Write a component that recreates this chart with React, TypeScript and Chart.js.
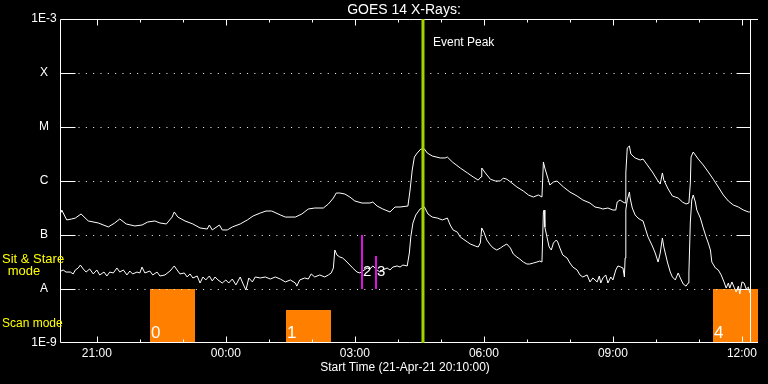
import React, { useEffect, useRef } from "react";
import { Chart, registerables } from "chart.js";

Chart.register(...registerables);

// Times are minutes after the start time 21-Apr-21 20:10:00
const longTime = [
  0, 1, 8, 15, 20, 28, 38, 52, 66, 75,
  82, 91, 103, 113, 121, 131, 138, 147, 155, 158,
  163, 173, 184, 194, 204, 207, 211, 221, 225, 232,
  239, 250, 260, 268, 278, 286, 294, 306, 313, 327,
  336, 345, 354, 366, 373, 380, 384, 389, 396, 403,
  410, 420, 431, 435, 441, 449, 459, 466, 473, 484,
  487, 490, 493, 497, 502, 507, 511, 518, 529, 536,
  539, 546, 557, 567, 575, 582, 586, 587, 592, 599,
  606, 613, 617, 622, 629, 636, 645, 652, 659, 666,
  671, 673, 675, 680, 682, 687, 692, 701, 710, 720,
  728, 738, 745, 752, 756, 763, 770, 774, 776, 780,
  784, 787, 788, 790, 793, 795, 801, 808, 812, 818,
  825, 832, 836, 839, 841, 847, 853, 857, 861, 867,
  872, 876, 878, 879, 882, 885, 889, 896, 903, 910,
  917, 924, 931, 938, 945, 952, 959, 961,
];
const longFlux = [
  2.67e-7, 2.9e-7, 1.9e-7, 1.98e-7, 2.06e-7, 2.45e-7, 1.82e-7, 1.67e-7, 1.41e-7, 1.67e-7,
  1.98e-7, 1.6e-7, 1.47e-7, 1.53e-7, 1.74e-7, 1.82e-7, 1.67e-7, 1.6e-7, 2.15e-7, 2.67e-7,
  2.15e-7, 1.82e-7, 1.6e-7, 1.35e-7, 1.29e-7, 1.53e-7, 1.24e-7, 1.53e-7, 1.24e-7, 1.24e-7,
  1.41e-7, 1.6e-7, 1.9e-7, 2.25e-7, 2.55e-7, 2.78e-7, 2.78e-7, 2.35e-7, 2.15e-7, 2.15e-7,
  2.45e-7, 3.03e-7, 3.16e-7, 3.16e-7, 3.75e-7, 4.84e-7, 5.99e-7, 5.99e-7, 5.74e-7, 5.05e-7,
  4.26e-7, 3.91e-7, 3.91e-7, 4.08e-7, 3.44e-7, 3.03e-7, 2.67e-7, 3.3e-7, 3.3e-7, 3.44e-7,
  6.81e-7, 1.6e-6, 2.78e-6, 3.3e-6, 3.91e-6, 3.91e-6, 3.3e-6, 2.9e-6, 2.67e-6, 2.67e-6,
  2.78e-6, 2.25e-6, 1.74e-6, 1.41e-6, 1.19e-6, 1.04e-6, 1.19e-6, 1.74e-6, 1.41e-6, 1.08e-6,
  1.0e-6, 1.0e-6, 1.13e-6, 1.08e-6, 9.18e-7, 7.74e-7, 6.53e-7, 5.51e-7, 5.05e-7, 5.51e-7,
  5.05e-7, 2.25e-6, 1.74e-6, 1.04e-6, 8.43e-7, 9.58e-7, 1.0e-6, 7.74e-7, 6.25e-7, 5.27e-7,
  4.45e-7, 3.91e-7, 3.3e-7, 3.16e-7, 3.03e-7, 3.16e-7, 2.9e-7, 2.9e-7, 4.08e-7, 4.45e-7,
  4.08e-7, 3.91e-7, 1.41e-6, 4.08e-6, 4.45e-6, 3.16e-6, 2.67e-6, 2.45e-6, 2.55e-6, 1.98e-6,
  1.47e-6, 1.04e-6, 8.8e-7, 1.41e-6, 1.04e-6, 7.11e-7, 5.27e-7, 5.05e-7, 4.84e-7, 4.08e-7,
  3.75e-7, 3.91e-7, 9.18e-7, 2.78e-6, 3.44e-6, 3.03e-6, 2.55e-6, 1.98e-6, 1.47e-6, 1.08e-6,
  7.74e-7, 5.51e-7, 4.26e-7, 3.59e-7, 3.3e-7, 2.9e-7, 2.67e-7, 2.67e-7,
];

const shortTime = [
  0, 3, 7, 13, 17, 20, 24, 27, 31, 35,
  40, 45, 50, 54, 60, 64, 68, 73, 78, 82,
  87, 92, 96, 100, 106, 110, 113, 117, 124, 128,
  134, 138, 145, 152, 158, 162, 166, 172, 176, 180,
  184, 190, 194, 198, 202, 207, 211, 215, 219, 225,
  230, 234, 239, 244, 250, 254, 258, 262, 267, 271,
  278, 285, 292, 299, 306, 313, 320, 327, 329, 333,
  340, 345, 349, 354, 361, 368, 373, 377, 380, 382,
  385, 389, 393, 399, 403, 407, 413, 417, 421, 427,
  431, 435, 441, 445, 449, 455, 459, 463, 469, 473,
  477, 483, 486, 488, 491, 495, 501, 507, 512, 518,
  525, 532, 539, 543, 547, 553, 557, 561, 567, 571,
  578, 582, 585, 587, 590, 594, 599, 603, 608, 613,
  617, 622, 627, 631, 636, 640, 645, 650, 654, 659,
  664, 668, 671, 673, 674, 675, 678, 681, 684, 687,
  691, 693, 696, 700, 706, 710, 714, 720, 724, 728,
  734, 738, 742, 748, 751, 753, 756, 760, 763, 767,
  770, 774, 777, 781, 784, 786, 787, 788, 790, 793,
  794, 797, 801, 805, 809, 812, 815, 819, 825, 829,
  833, 836, 839, 841, 846, 850, 853, 857, 861, 864,
  868, 872, 875, 876, 878, 880, 882, 885, 887, 892,
  896, 900, 903, 906, 908, 913, 917, 921, 925, 928,
  931, 933, 936, 939, 942, 945, 947, 950, 953, 956,
  959, 961,
];
const shortFlux = [
  2.15e-8, 2.25e-8, 2.06e-8, 2.06e-8, 1.9e-8, 2.25e-8, 2.45e-8, 2.78e-8, 2.35e-8, 2.06e-8,
  2.35e-8, 1.9e-8, 2.25e-8, 1.82e-8, 2.06e-8, 1.74e-8, 2.06e-8, 1.98e-8, 2.45e-8, 2.06e-8,
  2.25e-8, 1.82e-8, 2.15e-8, 1.9e-8, 2.06e-8, 1.98e-8, 2.55e-8, 1.98e-8, 2.15e-8, 1.82e-8,
  2.06e-8, 1.74e-8, 1.82e-8, 2.15e-8, 2.67e-8, 2.25e-8, 1.9e-8, 1.98e-8, 1.67e-8, 1.9e-8,
  1.6e-8, 1.74e-8, 1.29e-8, 1.67e-8, 1.47e-8, 1.74e-8, 1.41e-8, 1.67e-8, 1.47e-8, 1.29e-8,
  1.47e-8, 1.29e-8, 1.53e-8, 1.19e-8, 1.67e-8, 1.24e-8, 9.58e-9, 1.6e-8, 1.35e-8, 1.67e-8,
  1.6e-8, 1.67e-8, 1.53e-8, 1.67e-8, 1.53e-8, 1.35e-8, 1.47e-8, 1.29e-8, 1.13e-8, 1.47e-8,
  1.6e-8, 1.53e-8, 1.9e-8, 1.67e-8, 1.82e-8, 1.67e-8, 1.82e-8, 1.98e-8, 2.45e-8, 5.27e-8,
  4.26e-8, 3.91e-8, 3.75e-8, 3.16e-8, 2.78e-8, 2.45e-8, 2.06e-8, 1.98e-8, 2.15e-8, 2.45e-8,
  2.35e-8, 2.67e-8, 2.25e-8, 2.06e-8, 2.25e-8, 2.45e-8, 2.25e-8, 2.55e-8, 2.67e-8, 2.55e-8,
  2.78e-8, 2.67e-8, 4.64e-8, 9.18e-8, 1.67e-7, 2.35e-7, 3.03e-7, 3.3e-7, 2.45e-7, 2.15e-7,
  2.06e-7, 1.9e-7, 2.06e-7, 1.53e-7, 1.24e-7, 1.13e-7, 9.18e-8, 8.43e-8, 7.42e-8, 6.81e-8,
  6.25e-8, 5.99e-8, 7.11e-8, 1.35e-7, 1.13e-7, 8.08e-8, 6.53e-8, 5.74e-8, 5.27e-8, 5.74e-8,
  6.25e-8, 6.81e-8, 5.74e-8, 4.45e-8, 3.91e-8, 3.59e-8, 3.16e-8, 2.9e-8, 2.9e-8, 3.03e-8,
  3.16e-8, 3.3e-8, 3.16e-8, 2.67e-7, 2.9e-7, 1.41e-7, 9.18e-8, 5.99e-8, 5.27e-8, 7.11e-8,
  8.08e-8, 7.42e-8, 5.74e-8, 4.26e-8, 3.75e-8, 3.03e-8, 2.55e-8, 2.25e-8, 1.82e-8, 1.67e-8,
  1.82e-8, 1.35e-8, 1.6e-8, 1.35e-8, 1.74e-8, 1.29e-8, 1.6e-8, 1.82e-8, 1.29e-8, 1.67e-8,
  1.47e-8, 2.25e-8, 2.67e-8, 2.55e-8, 2.45e-8, 1.67e-8, 3.75e-8, 2.9e-7, 4.45e-7, 6.25e-7,
  4.84e-7, 3.16e-7, 2.35e-7, 2.06e-7, 1.9e-7, 1.82e-7, 1.35e-7, 9.18e-8, 6.25e-8, 4.64e-8,
  3.16e-8, 4.64e-8, 8.8e-8, 5.99e-8, 3.16e-8, 2.06e-8, 1.67e-8, 1.47e-8, 1.98e-8, 1.6e-8,
  1.24e-8, 1.13e-8, 1.29e-8, 1.98e-8, 1.74e-7, 4.45e-7, 5.51e-7, 4.08e-7, 2.9e-7, 2.06e-7,
  1.35e-7, 9.18e-8, 7.11e-8, 5.27e-8, 3.16e-8, 2.45e-8, 2.25e-8, 1.82e-8, 1.35e-8, 1.04e-8,
  1.29e-8, 1.04e-8, 1.35e-8, 1.08e-8, 8.8e-9, 1.13e-8, 8.08e-9, 1.35e-8, 1.29e-8, 1.0e-8,
  1.08e-8, 8.43e-9,
];

// Axes
const yTickValues = [1e-9, 1e-8, 1e-7, 1e-6, 1e-5, 1e-4, 1e-3];
const yTickLabels = ["1E-9", "A", "B", "C", "M", "X", "1E-3"];
const gridValues = [1e-8, 1e-7, 1e-6, 1e-5, 1e-4];
const xMajorTicks = [50, 230, 410, 590, 770, 950];
const xMajorLabels = ["21:00", "00:00", "03:00", "06:00", "09:00", "12:00"];
const xMinorTicks = [50, 110, 170, 230, 290, 350, 410, 470, 530, 590, 650, 710, 770, 830, 890, 950];
const xMin = 0;
const xMax = 971;
const yMin = 1e-9;
const yMax = 1e-3;

// Scan mode blocks
const scanLabels = ["0", "1", "4"];
const scanStart = [124, 314, 910];
const scanEnd = [186, 375, 971];
const scanTop = [1e-8, 4.1e-9, 1e-8];

// Sit & stare markers
const stareLabels = ["2", "3"];
const stareTime = [420, 440];
const stareTop = [1e-7, 4.1e-8];

const eventPeakTime = 505;

const titleText = "GOES 14 X-Rays:";
const xTitleText = "Start Time (21-Apr-21 20:10:00)";

const FONT = '"Liberation Sans", Arial, sans-serif';

export default function App() {
  const ref = useRef<HTMLCanvasElement>(null);

  useEffect(() => {
    const canvas = ref.current;
    if (!canvas) return;

    const overlay = {
      id: "goesOverlay",
      beforeDatasetsDraw(chart: any) {
        const { ctx, chartArea: a } = chart;
        const xs = chart.scales.x;
        const ys = chart.scales.y;
        const rightAxis = Math.round(xs.getPixelForValue(longTime[longTime.length - 1])) + 0.5;
        const leftAxis = Math.round(a.left) - 0.5;
        const topAxis = Math.round(a.top) + 0.5;
        const botAxis = Math.round(a.bottom) - 0.5;
        ctx.save();

        // orange scan-mode blocks
        ctx.fillStyle = "#ff8000";
        scanStart.forEach((s, i) => {
          const x0 = xs.getPixelForValue(s);
          const x1 = xs.getPixelForValue(scanEnd[i]) + 1;
          const y0 = ys.getPixelForValue(scanTop[i]);
          const y1 = ys.getPixelForValue(yMin);
          ctx.fillRect(Math.round(x0), Math.round(y0), Math.round(x1 - x0), Math.round(y1 - y0));
        });

        ctx.strokeStyle = "#ffffff";
        ctx.lineWidth = 1;

        // horizontal level lines
        gridValues.forEach((v) => {
          const py = Math.round(ys.getPixelForValue(v)) + 0.5;
          ctx.setLineDash([]);
          ctx.beginPath();
          ctx.moveTo(leftAxis, py);
          ctx.lineTo(leftAxis + 15, py);
          ctx.moveTo(rightAxis - 14, py);
          ctx.lineTo(rightAxis, py);
          ctx.stroke();
          ctx.setLineDash([1, 6.33]);
          ctx.beginPath();
          ctx.moveTo(leftAxis + 18, py);
          ctx.lineTo(rightAxis - 15, py);
          ctx.stroke();
        });
        ctx.setLineDash([]);

        // frame
        ctx.beginPath();
        ctx.moveTo(leftAxis, topAxis);
        ctx.lineTo(a.right + 1, topAxis);
        ctx.moveTo(leftAxis, botAxis);
        ctx.lineTo(a.right + 1, botAxis);
        ctx.moveTo(leftAxis, topAxis);
        ctx.lineTo(leftAxis, botAxis);
        ctx.moveTo(rightAxis, topAxis);
        ctx.lineTo(rightAxis, botAxis);
        ctx.stroke();

        // time ticks
        ctx.beginPath();
        xMinorTicks.forEach((t) => {
          const px = Math.round(xs.getPixelForValue(t)) + 0.5;
          const len = xMajorTicks.includes(t) ? 6 : 3;
          ctx.moveTo(px, topAxis);
          ctx.lineTo(px, topAxis + len);
          ctx.moveTo(px, botAxis);
          ctx.lineTo(px, botAxis - len);
        });
        ctx.stroke();

        // texts
        ctx.fillStyle = "#ffffff";
        ctx.textBaseline = "middle";
        ctx.font = `14px ${FONT}`;
        ctx.textAlign = "center";
        ctx.fillText(titleText, 404, 10);

        ctx.font = `12px ${FONT}`;
        yTickValues.forEach((v, i) => {
          ctx.fillText(yTickLabels[i], 44, ys.getPixelForValue(v));
        });
        xMajorTicks.forEach((t, i) => {
          ctx.fillText(xMajorLabels[i], xs.getPixelForValue(t), 354);
        });
        ctx.fillText(xTitleText, 405, 368);

        ctx.fillStyle = "#ffff00";
        ctx.font = `13px ${FONT}`;
        ctx.textAlign = "left";
        ctx.fillText("Sit & Stare", 2, 259);
        ctx.textAlign = "center";
        ctx.fillText("mode", 24, 271);
        ctx.font = `12px ${FONT}`;
        ctx.textAlign = "left";
        ctx.fillText("Scan mode", 2, 324);

        ctx.restore();
      },
      afterDatasetsDraw(chart: any) {
        const { ctx, chartArea: a } = chart;
        const xs = chart.scales.x;
        const ys = chart.scales.y;
        ctx.save();

        // sit & stare markers
        ctx.strokeStyle = "#e010e0";
        ctx.lineWidth = 2;
        stareTime.forEach((t, i) => {
          const px = Math.round(xs.getPixelForValue(t));
          ctx.beginPath();
          ctx.moveTo(px, ys.getPixelForValue(stareTop[i]));
          ctx.lineTo(px, ys.getPixelForValue(1e-8));
          ctx.stroke();
        });

        // event peak line
        const ex = xs.getPixelForValue(eventPeakTime);
        ctx.strokeStyle = "#a4d400";
        ctx.lineWidth = 3;
        ctx.beginPath();
        ctx.moveTo(ex, a.top);
        ctx.lineTo(ex, a.bottom);
        ctx.stroke();

        ctx.fillStyle = "#ffffff";
        ctx.textBaseline = "middle";
        ctx.textAlign = "left";
        ctx.font = `12px ${FONT}`;
        ctx.fillText("Event Peak", ex + 10, 43);

        ctx.font = `17px ${FONT}`;
        scanStart.forEach((s, i) => {
          ctx.fillText(scanLabels[i], Math.round(xs.getPixelForValue(s)) + 1, 333);
        });
        ctx.font = `15px ${FONT}`;
        stareTime.forEach((t, i) => {
          ctx.fillText(stareLabels[i], Math.round(xs.getPixelForValue(t)) + 1, 272);
        });
        ctx.restore();
      },
    };

    const chart = new Chart(canvas, {
      type: "line",
      data: {
        datasets: [
          {
            label: "1.0-8.0 A",
            data: longTime.map((t, i) => ({ x: t, y: longFlux[i] })),
            borderColor: "#ffffff",
            borderWidth: 1,
            pointRadius: 0,
            tension: 0,
            fill: false,
          },
          {
            label: "0.5-4.0 A",
            data: shortTime.map((t, i) => ({ x: t, y: shortFlux[i] })),
            borderColor: "#ffffff",
            borderWidth: 1,
            pointRadius: 0,
            tension: 0,
            fill: false,
          },
        ],
      },
      options: {
        animation: false,
        responsive: false,
        maintainAspectRatio: false,
        devicePixelRatio: 1,
        events: [],
        layout: { padding: { left: 61, right: 11, top: 19, bottom: 41 } },
        scales: {
          x: { type: "linear", min: xMin, max: xMax, display: false },
          y: { type: "logarithmic", min: yMin, max: yMax, display: false },
        },
        plugins: {
          legend: { display: false },
          tooltip: { enabled: false },
          title: { display: false },
        },
      },
      plugins: [overlay],
    });

    return () => chart.destroy();
  }, []);

  return (
    <div
      style={{
        position: "fixed",
        left: 0,
        top: 0,
        width: 768,
        height: 384,
        background: "#000000",
      }}
    >
      <canvas
        ref={ref}
        width={768}
        height={384}
        style={{ display: "block", width: 768, height: 384 }}
      />
    </div>
  );
}
